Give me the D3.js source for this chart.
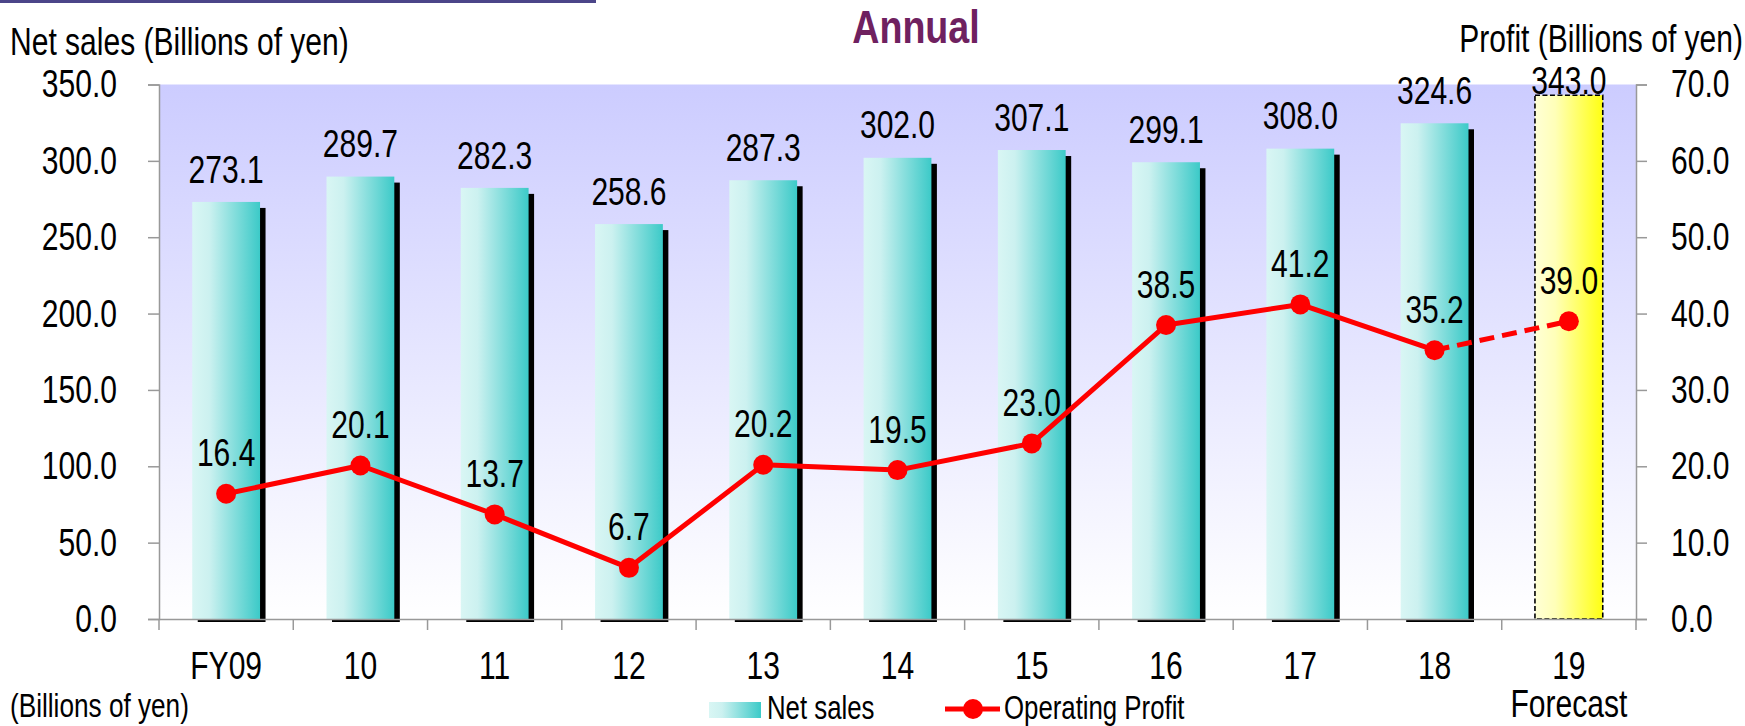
<!DOCTYPE html>
<html><head><meta charset="utf-8">
<script src="https://cdn.jsdelivr.net/npm/d3@7"></script>
<style>
html,body{margin:0;padding:0;background:#fff;}
svg{display:block;}
text{font-family:"Liberation Sans Narrow","Arial Narrow","Liberation Sans",Arial,sans-serif;fill:#000;}
</style></head>
<body>
<svg id="chart" width="1745" height="726"></svg>
<script>
const categories = ["FY09","10","11","12","13","14","15","16","17","18","19"];
const categorySub = ["","","","","","","","","","","Forecast"];
const netSales = [273.1,289.7,282.3,258.6,287.3,302.0,307.1,299.1,308.0,324.6,343.0];
const operatingProfit = [16.4,20.1,13.7,6.7,20.2,19.5,23.0,38.5,41.2,35.2,39.0];
const isForecast = [false,false,false,false,false,false,false,false,false,false,true];
const leftTicks = [0,50,100,150,200,250,300,350];
const rightTicks = [0,10,20,30,40,50,60,70];

const svg = d3.select("#chart");
const L = 159, R = 1636, T = 84.5, B = 619;
const SX = 0.77; // horizontal condensing to mimic a narrow face
const FS = 39;   // main label size

const x = d3.scaleBand().domain(categories).range([L, R]).paddingInner(0).paddingOuter(0);
const yL = d3.scaleLinear().domain([0, 350]).range([B, T]);
const yR = d3.scaleLinear().domain([0, 70]).range([B, T]);

const defs = svg.append("defs");
const bg = defs.append("linearGradient").attr("id","bg").attr("x1",0).attr("y1",0).attr("x2",0).attr("y2",1);
bg.append("stop").attr("offset","0").attr("stop-color","#ccccff");
bg.append("stop").attr("offset","1").attr("stop-color","#ffffff");
const gb = defs.append("linearGradient").attr("id","barg").attr("x1",0).attr("y1",0).attr("x2",1).attr("y2",0);
gb.append("stop").attr("offset","0").attr("stop-color","#d9f6f4");
gb.append("stop").attr("offset","0.25").attr("stop-color","#ccf1f0");
gb.append("stop").attr("offset","1").attr("stop-color","#3ccac8");
const gy = defs.append("linearGradient").attr("id","yelg").attr("x1",0).attr("y1",0).attr("x2",1).attr("y2",0);
gy.append("stop").attr("offset","0").attr("stop-color","#ffffd6");
gy.append("stop").attr("offset","0.3").attr("stop-color","#ffffb8");
gy.append("stop").attr("offset","1").attr("stop-color","#ffff12");

const nt = (xx,yy,s)=>`translate(${xx},${yy}) scale(${s||SX},1)`;

// top-left decorative bar
svg.append("rect").attr("x",0).attr("y",0).attr("width",596).attr("height",3).attr("fill","#4b4589");

// plot background
svg.append("rect").attr("x",L).attr("y",T).attr("width",R-L).attr("height",B-T).attr("fill","url(#bg)");

const bw = x.bandwidth()*0.505;
const bars = netSales.map((v,i)=>({cat:categories[i], v, f:isForecast[i]}));
const cx = c => x(c)+x.bandwidth()/2;

// shadows
svg.append("g").selectAll("rect").data(bars.filter(d=>!d.f)).join("rect")
  .attr("x",d=>cx(d.cat)-bw/2+5.5)
  .attr("y",d=>yL(d.v)+6)
  .attr("width",bw)
  .attr("height",d=>B-yL(d.v)-3)
  .attr("fill","#000");
// bars
svg.append("g").selectAll("rect").data(bars).join("rect")
  .attr("x",d=>cx(d.cat)-bw/2)
  .attr("y",d=>yL(d.v))
  .attr("width",bw)
  .attr("height",d=>B-yL(d.v))
  .attr("fill",d=>d.f?"url(#yelg)":"url(#barg)")
  .attr("stroke",d=>d.f?"#000":"none")
  .attr("stroke-width",1.6)
  .attr("stroke-dasharray","5,2.5");

// axes
const axisColor = "#999";
const gL = svg.append("g").attr("transform",`translate(${L},0)`)
  .call(d3.axisLeft(yL).tickValues(leftTicks).tickSize(11).tickPadding(31).tickFormat(d3.format(".1f")));
const gR = svg.append("g").attr("transform",`translate(${R},0)`)
  .call(d3.axisRight(yR).tickValues(rightTicks).tickSize(11).tickPadding(24).tickFormat(d3.format(".1f")));
[gL,gR].forEach(g=>{
  g.select(".domain").attr("stroke",axisColor).attr("stroke-width",1.5);
  g.selectAll(".tick line").attr("stroke",axisColor).attr("stroke-width",1.5);
  g.selectAll(".tick text").each(function(){
    const t = d3.select(this);
    const xv = +t.attr("x");
    t.attr("x",null).attr("transform",nt(xv,0));
  }).attr("font-size",FS).attr("fill","#000")
    .style("font-family",'"Liberation Sans Narrow","Arial Narrow","Liberation Sans",Arial,sans-serif');
});
// x axis
const gX = svg.append("g").attr("transform",`translate(0,${B})`)
  .call(d3.axisBottom(x).tickSize(0).tickPadding(0).tickFormat(""));
gX.select(".domain").attr("stroke",axisColor).attr("stroke-width",1.5);
const bounds = categories.map(c=>x(c)).concat([R]);
svg.append("g").selectAll("line").data(bounds).join("line")
  .attr("x1",d=>d).attr("x2",d=>d).attr("y1",B).attr("y2",B+11)
  .attr("stroke",axisColor).attr("stroke-width",1.5);
svg.append("g").selectAll("text").data(categories).join("text")
  .attr("transform",d=>nt(cx(d),679))
  .attr("text-anchor","middle").attr("font-size",FS).text(d=>d);
svg.append("g").selectAll("text").data(categorySub.map((s,i)=>({s,c:categories[i]})).filter(d=>d.s)).join("text")
  .attr("transform",d=>nt(cx(d.c),717,0.79))
  .attr("text-anchor","middle").attr("font-size",38).text(d=>d.s);

// bar labels
svg.append("g").selectAll("text").data(bars).join("text")
  .attr("transform",d=>nt(cx(d.cat), Math.max(yL(d.v)-33, T-4)))
  .attr("dy","0.35em")
  .attr("text-anchor","middle").attr("font-size",FS)
  .text(d=>d.v.toFixed(1));

// profit line
const pts = operatingProfit.map((v,i)=>({cat:categories[i], v, f:isForecast[i]}));
const px = d=>cx(d.cat);
const line = d3.line().x(px).y(d=>yR(d.v));
const solidPts = pts.filter(d=>!d.f);
const lastActual = solidPts[solidPts.length-1];
svg.append("path").datum(solidPts).attr("d",line).attr("fill","none")
  .attr("stroke","#ff0000").attr("stroke-width",5).attr("stroke-linejoin","round");
svg.append("path").datum([lastActual].concat(pts.filter(d=>d.f))).attr("d",line).attr("fill","none")
  .attr("stroke","#ff0000").attr("stroke-width",5).attr("stroke-dasharray","15,8");
svg.append("g").selectAll("circle").data(pts).join("circle")
  .attr("cx",px).attr("cy",d=>yR(d.v)).attr("r",10).attr("fill","#ff0000");
svg.append("g").selectAll("text").data(pts).join("text")
  .attr("transform",d=>nt(px(d), yR(d.v)-41)).attr("dy","0.35em")
  .attr("text-anchor","middle").attr("font-size",FS)
  .text(d=>d.v.toFixed(1));

// titles
svg.append("text").attr("transform",nt(916,43,0.8)).attr("text-anchor","middle")
  .attr("font-size",47).attr("font-weight","bold").style("fill","#6f2160").text("Annual");
svg.append("text").attr("transform",nt(10,55)).attr("font-size",FS).text("Net sales (Billions of yen)");
svg.append("text").attr("transform",nt(1743,52)).attr("text-anchor","end").attr("font-size",FS).text("Profit (Billions of yen)");
svg.append("text").attr("transform",nt(10,717)).attr("font-size",34).text("(Billions of yen)");

// legend
const lg = svg.append("g");
lg.append("rect").attr("x",709).attr("y",702).attr("width",52).attr("height",16).attr("fill","url(#barg)");
lg.append("text").attr("transform",nt(767,719)).attr("font-size",33.5).text("Net sales");
lg.append("line").attr("x1",945).attr("x2",1000).attr("y1",709).attr("y2",709).attr("stroke","#ff0000").attr("stroke-width",5);
lg.append("circle").attr("cx",973).attr("cy",709).attr("r",10).attr("fill","#ff0000");
lg.append("text").attr("transform",nt(1004,719)).attr("font-size",33.5).text("Operating Profit");
</script>
</body></html>
